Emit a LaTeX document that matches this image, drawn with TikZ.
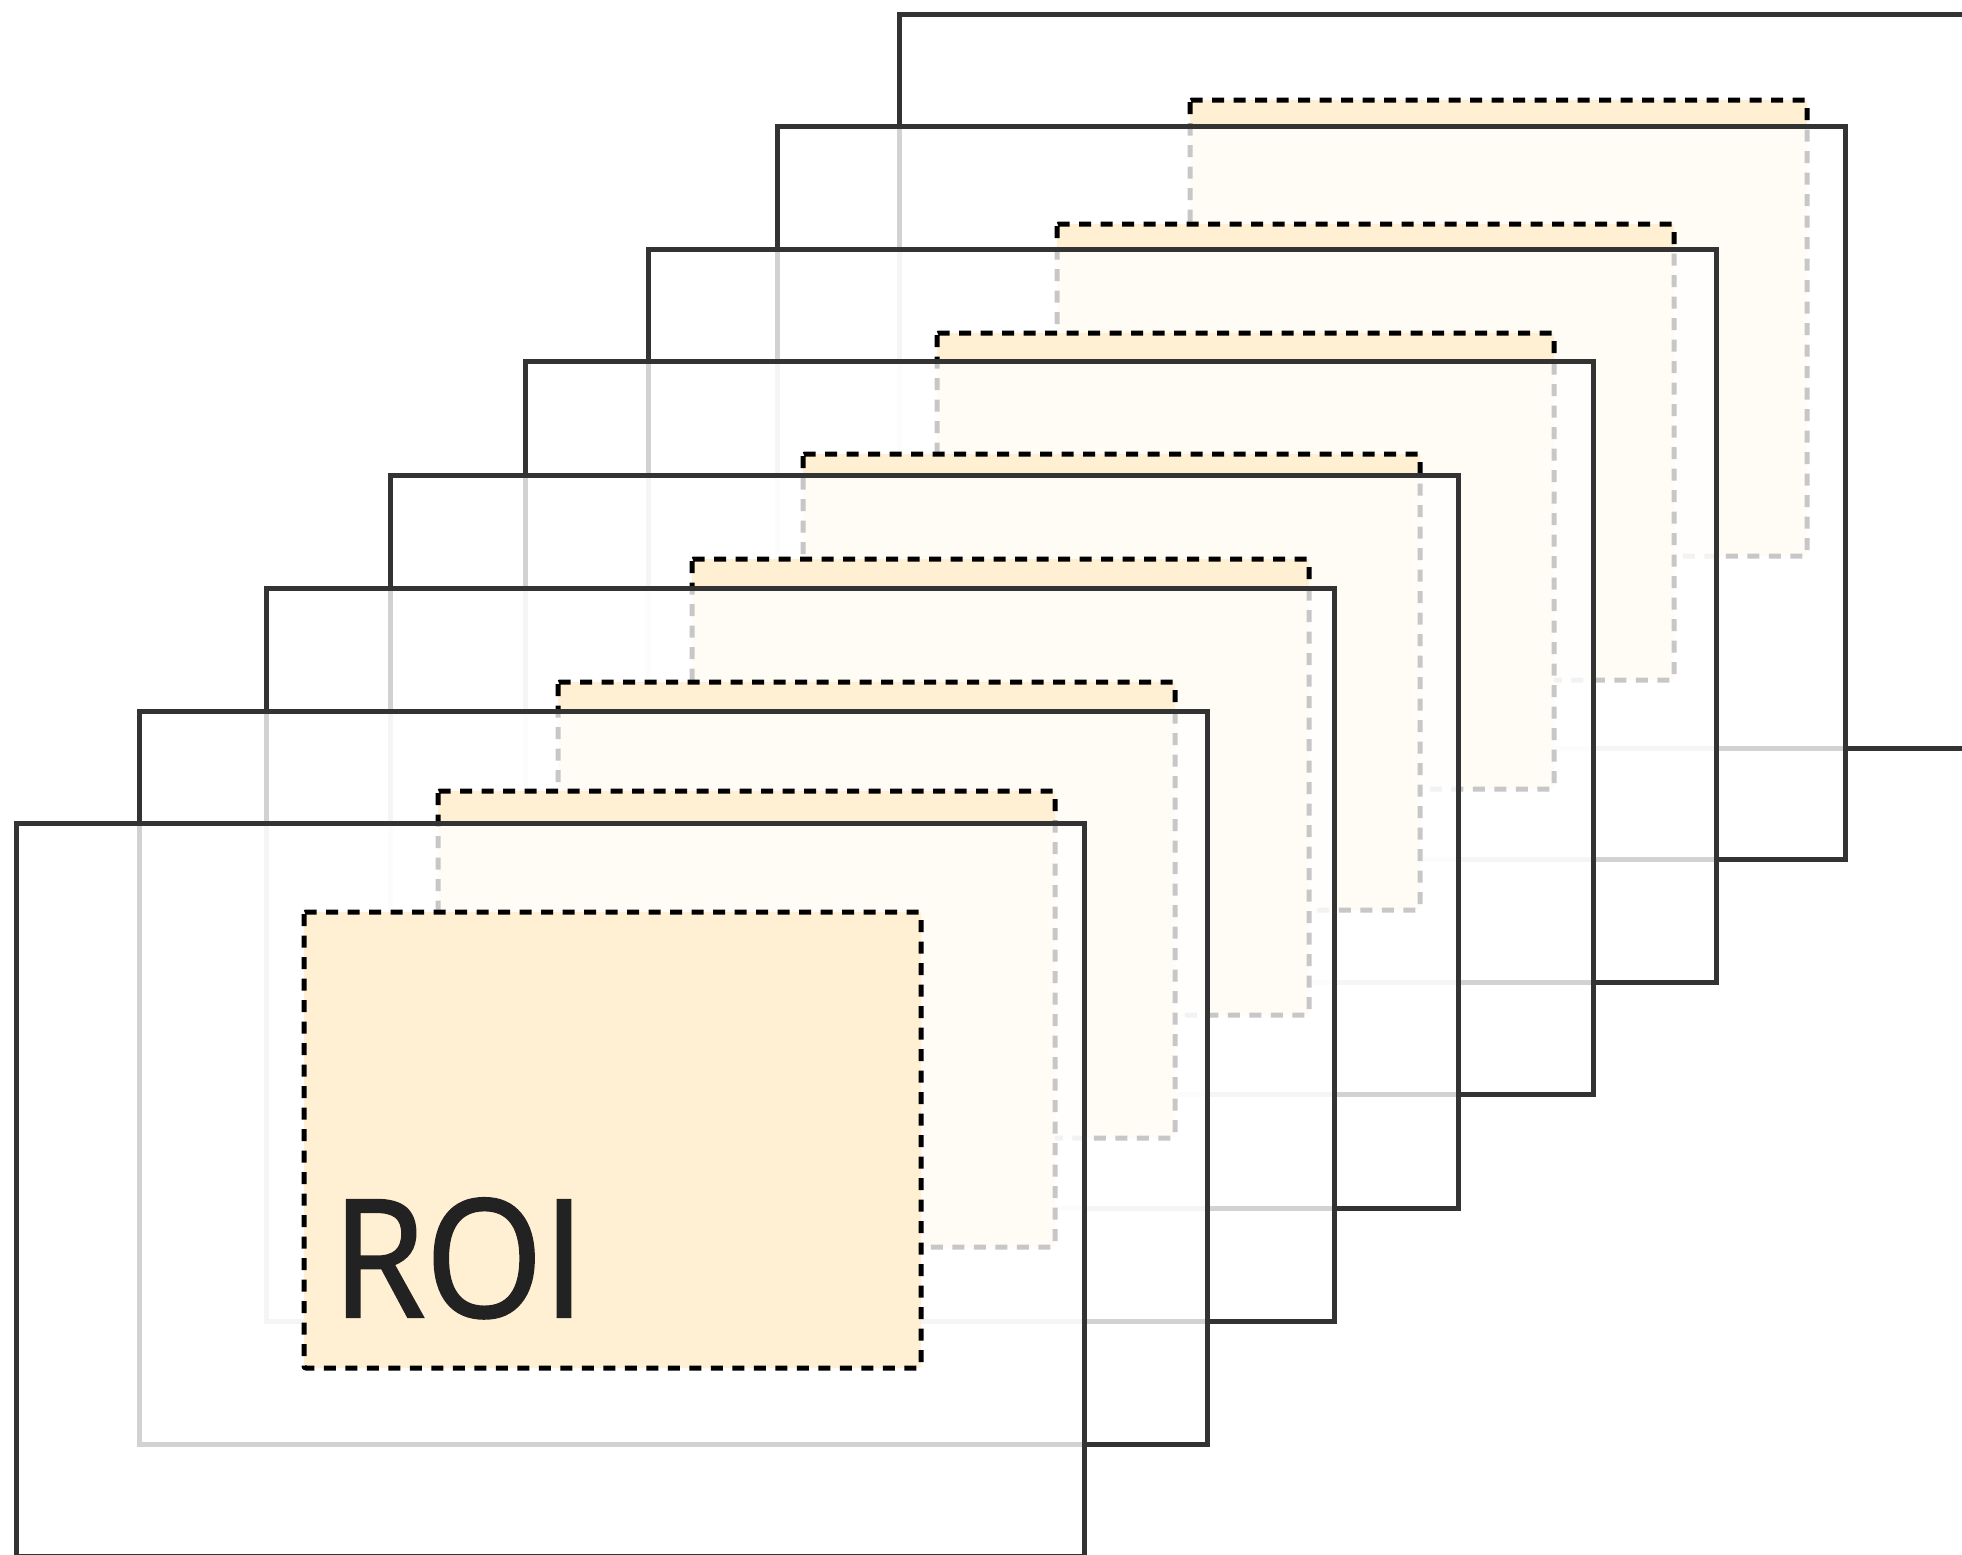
\documentclass[tikz,border=0pt]{standalone}
\usepackage{fontspec}
\newfontfamily\roifont[FakeStretch=0.92, FakeBold=1.4]{Open Sans}

\definecolor{framegray}{HTML}{333333}
\definecolor{roifill}{HTML}{FFF0D4}
\definecolor{textgray}{HTML}{222222}

\begin{document}
\begin{tikzpicture}[
    x=1pt, y=-1pt,
    framebox/.style={draw=framegray, line width=5pt},
    veil/.style={fill=white, fill opacity=0.78},
    roi/.style={draw=black, fill=roifill, line width=5pt, dash pattern=on 12pt off 9.5pt, rounded corners=2pt},
    roilabel/.style={font=\roifont\fontsize{164}{164}\selectfont, text=textgray, inner sep=0pt}
]

\useasboundingbox (0,0) rectangle (1962,1555);
\clip (0,0) rectangle (1962,1555);

% frames from back to front, each one with its region of interest
\foreach \fx/\fy/\rx/\ry in {899/15/1190/100, 777/126.5/1057/224, 648/249/937/333,
    525.5/361.5/803/454, 390/475.5/692/559, 266.5/588/558/682, 139/711/438/791, 16.5/823/304/912}{
  \fill[veil] (\fx,\fy) rectangle ++(1068,733);
  \draw[framebox] (\fx,\fy) rectangle ++(1068,733);
  \draw[roi] (\rx,\ry) rectangle ++(617,456);
}

\node[roilabel, anchor=base west] (roitext) at (332,1317) {ROI};

\end{tikzpicture}
\end{document}
